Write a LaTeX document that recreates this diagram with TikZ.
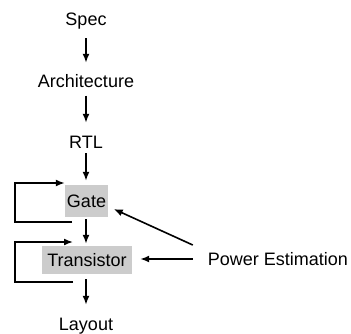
\documentclass[tikz,border=0pt]{standalone}
\usepackage{fontspec}
\setmainfont{Liberation Sans}
\usetikzlibrary{arrows.meta}
\begin{document}
\begin{tikzpicture}[x=1pt,y=-1pt,
  lbl/.style={font=\fontsize{18}{20}\selectfont, inner sep=0pt, text height=13pt, text depth=0pt},
  stagebox/.style={lbl, fill=gray!40, minimum width=#1},
  arr/.style={line width=1.6pt, -{Latex[length=9pt,width=7pt]}},
  ln/.style={line width=1.6pt}]
\useasboundingbox (0,0) rectangle (351,333);
\node[lbl] (spec) at (86,18.5) {Spec};
\node[lbl] (arch) at (86,81) {Architecture};
\node[lbl] (rtl) at (86,141.5) {RTL};
\node[stagebox=43pt, minimum height=32pt] (gate) at (86.5,201) {Gate};
\node[stagebox=90pt, minimum height=28pt] (trans) at (87,260) {Transistor};
\node[lbl] (layout) at (86,323.5) {Layout};
\node[lbl] (power) at (278,259) {Power Estimation};
% main flow
\draw[arr, shorten <=13pt, shorten >=11.5pt] (spec) -- (arch);
\draw[arr, shorten <=8pt, shorten >=12pt] (arch) -- (rtl);
\draw[arr, shorten <=5pt, shorten >=4pt] (rtl) -- (rtl |- gate.north);
\draw[arr, shorten <=2pt, shorten >=2pt] (gate.south -| rtl) -- (rtl |- trans.north);
\draw[arr, shorten <=5pt, shorten >=12pt] (trans.south -| rtl) -- (layout);
% feedback loops
\coordinate (g1) at (72,222);
\coordinate (g2) at (15,222);
\coordinate (g3) at (15,183);
\draw[arr] (g1) -- (g2) -- (g3) -- (g3 -| gate.west);
\coordinate (t1) at (73,282);
\coordinate (t2) at (15,282);
\coordinate (t3) at (15,242);
\coordinate (t4) at (73,242);
\draw[arr] (t1) -- (t2) -- (t3) -- (t4);
% power estimation
\draw[arr] ([xshift=-15pt,yshift=14pt]power.west) -- ([xshift=5.5pt,yshift=-8pt]gate.east);
\draw[arr] ([xshift=-15pt]power.west) -- ([xshift=8pt,yshift=1pt]trans.east);
\end{tikzpicture}
\end{document}
